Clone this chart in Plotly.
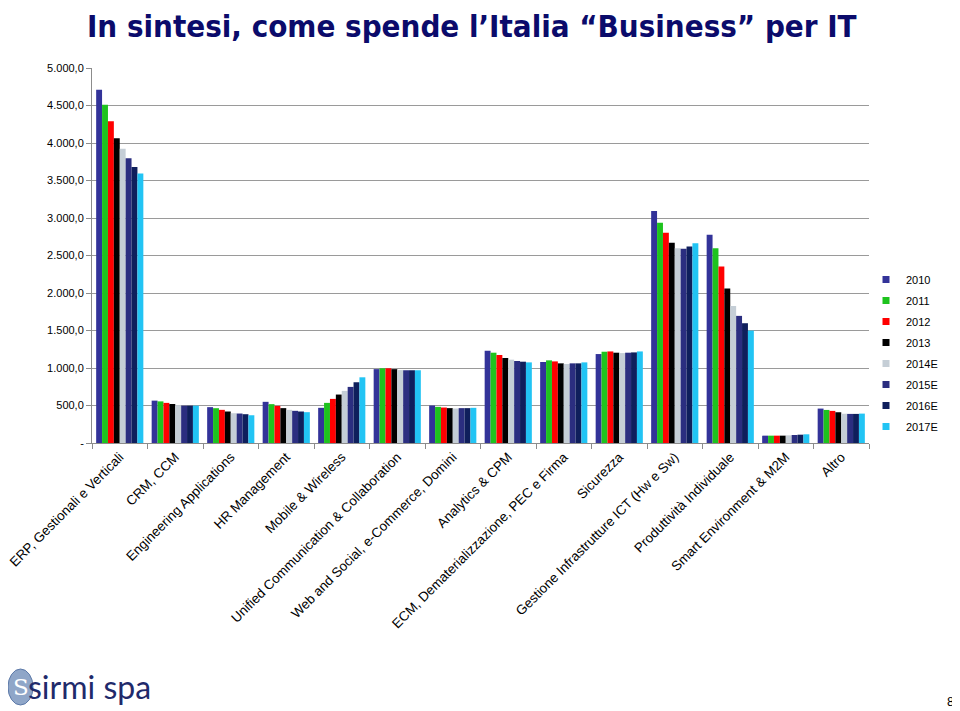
import plotly.graph_objects as go

categories = [
    "ERP, Gestionali e Verticali",
    "CRM, CCM",
    "Engineering Applications",
    "HR Management",
    "Mobile & Wireless",
    "Unified Communication & Collaboration",
    "Web and Social, e-Commerce, Domini",
    "Analytics & CPM",
    "ECM, Dematerializzazione, PEC e Firma",
    "Sicurezza",
    "Gestione Infrastrutture ICT (Hw e Sw)",
    "Produttività Individuale",
    "Smart Environment & M2M",
    "Altro",
]

series_names = ["2010", "2011", "2012", "2013", "2014E", "2015E", "2016E", "2017E"]

v2010 = [4710, 565, 478, 549, 469, 985, 500, 1230, 1080, 1186, 3092, 2776, 98, 459]
v2011 = [4510, 555, 464, 518, 535, 996, 482, 1204, 1102, 1217, 2936, 2598, 98, 441]
v2012 = [4291, 535, 442, 495, 588, 996, 473, 1173, 1088, 1221, 2802, 2353, 98, 428]
v2013 = [4064, 520, 420, 465, 646, 985, 465, 1133, 1062, 1204, 2669, 2060, 98, 410]
v2014E = [3922, 505, 397, 442, 695, 972, 460, 1111, 1053, 1199, 2598, 1828, 102, 390]
v2015E = [3797, 498, 393, 429, 748, 970, 465, 1093, 1062, 1204, 2589, 1695, 107, 388]
v2016E = [3681, 498, 384, 420, 810, 970, 465, 1084, 1062, 1208, 2620, 1597, 111, 388]
v2017E = [3592, 498, 370, 411, 876, 970, 469, 1075, 1075, 1221, 2665, 1499, 116, 392]

series_values = [v2010, v2011, v2012, v2013, v2014E, v2015E, v2016E, v2017E]

y_tickvals = [0, 500, 1000, 1500, 2000, 2500, 3000, 3500, 4000, 4500, 5000]
y_ticktext = ["-", "500,0", "1.000,0", "1.500,0", "2.000,0", "2.500,0",
              "3.000,0", "3.500,0", "4.000,0", "4.500,0", "5.000,0"]

colors = ["#333399", "#1EC31E", "#FF0000", "#000000", "#C5CED6",
          "#2B2E80", "#0F1F5C", "#22C4F4"]

fig = go.Figure()
for name, vals, col in zip(series_names, series_values, colors):
    fig.add_trace(go.Bar(
        x=categories, y=vals, name=name, showlegend=False,
        marker=dict(color=col, line=dict(width=0)),
    ))
# legend entries with small square markers
for name, col in zip(series_names, colors):
    fig.add_trace(go.Scatter(
        x=[None], y=[None], mode="markers", name=name, legendgroup=name,
        marker=dict(symbol="square", size=7, color=col),
    ))

# page has an 8px body margin, so the figure is 952x703 and
# all reference page coordinates are shifted by -8
OFF = 8
W, H = 960 - OFF, 711 - OFF
L, R, T, B = 92 - OFF, W - (869 - OFF), 68 - OFF, H - (443 - OFF)
PW, PH = W - L - R, H - T - B


def px(x):
    return (x - OFF - L) / PW


def py(y):
    return (H - B - (y - OFF)) / PH


fig.update_layout(
    width=W, height=H,
    margin=dict(l=L, r=R, t=T, b=B, pad=0, autoexpand=False),
    paper_bgcolor="white", plot_bgcolor="white",
    barmode="group", bargap=0.15, bargroupgap=0,
    font=dict(family="Liberation Sans, Arial, sans-serif", color="#000000"),
    showlegend=True,
    legend=dict(
        x=px(866), y=py(265),
        xanchor="left", yanchor="top",
        font=dict(size=11, family="Liberation Sans, Arial, sans-serif"),
        tracegroupgap=2, bgcolor="rgba(0,0,0,0)",
        itemwidth=30,
    ),
    xaxis=dict(
        type="category", tickangle=-45, tickson="boundaries",
        ticks="outside", ticklen=5, tickcolor="#8C8C8C",
        showline=True, linecolor="#8C8C8C", linewidth=1,
        showgrid=False, automargin=False,
        tickfont=dict(size=13.4, family="Liberation Sans, Arial, sans-serif"),
    ),
    yaxis=dict(
        range=[0, 5000], tickvals=y_tickvals, ticktext=y_ticktext,
        ticks="outside", ticklen=5, tickcolor="#8C8C8C",
        showline=True, linecolor="#8C8C8C", linewidth=1,
        showgrid=True, gridcolor="#9A9A9A", gridwidth=1,
        zeroline=False, automargin=False,
        tickfont=dict(size=11, family="Liberation Sans, Arial, sans-serif"),
    ),
)

# Title
fig.add_annotation(
    text="<b>In sintesi, come spende l’Italia “Business” per IT</b>",
    xref="paper", yref="paper",
    x=px(472), y=py(OFF - 2),
    xanchor="center", yanchor="top", showarrow=False,
    font=dict(size=31, color="#0B0B6B",
              family="DejaVu Sans Condensed, Liberation Sans, Arial, sans-serif"),
)

# Logo
fig.add_shape(
    type="circle", xref="paper", yref="paper",
    x0=px(8), x1=px(33), y0=py(705), y1=py(669),
    fillcolor="#8FA6C8", line=dict(color="#5C79A8", width=1),
)
fig.add_annotation(
    text="S", xref="paper", yref="paper",
    x=px(20.5), y=py(687),
    xanchor="center", yanchor="middle", showarrow=False,
    font=dict(size=23, color="#FFFFFF", family="DejaVu Serif, serif"),
)
fig.add_annotation(
    text="sirmi spa", xref="paper", yref="paper",
    x=px(26), y=py(686),
    xanchor="left", yanchor="middle", showarrow=False,
    font=dict(size=32, color="#1F2A6B", family="Lato, Noto Sans, sans-serif"),
)

# Page number
fig.add_annotation(
    text="8", xref="paper", yref="paper",
    x=px(950), y=py(701),
    xanchor="center", yanchor="middle", showarrow=False,
    font=dict(size=13, color="#000000"),
)

fig.write_html("out.html")
